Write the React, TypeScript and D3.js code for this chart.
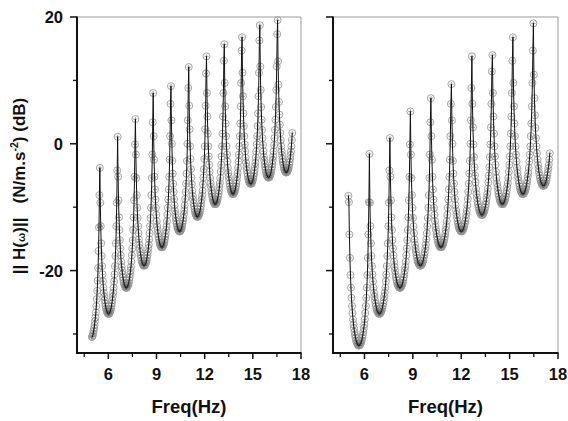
import React from 'react';
import * as d3 from 'd3';

// Sampled frequency grid (Hz) and measured magnitude (dB) for each panel
const LEFT_F0 = 4.9757;
const LEFT_STEP = 0.027675;
const LEFT_DB = [
  -30.5, -30.4, -30.2, -29.9, -29.5, -29.1, -28.6, -28.0, -27.4, -26.6, -25.6, -24.5, -23.2, -21.6, -19.6, -16.9, -13.2, -8.1,
  -3.8, -9.3, -13.0, -15.7, -17.7, -19.3, -20.6, -21.7, -22.7, -23.5, -24.1, -24.7, -25.2, -25.6, -26.0, -26.3, -26.5, -26.6, -26.8, -26.8, -26.8, -26.8, -26.6, -26.5, -26.3, -26.0, -25.6, -25.2, -24.7, -24.1, -23.5, -22.7, -21.7, -20.6, -19.3, -17.7, -15.7, -13.0, -9.3, -4.2,
  1.1, -5.2, -8.9, -11.6, -13.6, -15.2, -16.5, -17.6, -18.6, -19.4, -20.0, -20.6, -21.1, -21.5, -21.9, -22.2, -22.4, -22.5, -22.7, -22.7, -22.7, -22.7, -22.5, -22.4, -22.2, -21.9, -21.5, -21.1, -20.6, -20.0, -19.4, -18.6, -17.6, -16.5, -15.2, -13.6, -11.6, -8.9, -5.2, -0.1,
  3.9, -1.7, -5.4, -8.1, -10.1, -11.7, -13.0, -14.1, -15.1, -15.9, -16.5, -17.1, -17.6, -18.0, -18.4, -18.7, -18.9, -19.0, -19.2, -19.2, -19.2, -19.2, -19.0, -18.9, -18.7, -18.4, -18.0, -17.6, -17.1, -16.5, -15.9, -15.1, -14.1, -13.0, -11.7, -10.1, -8.1, -5.4, -1.7, 3.4,
  8.0, 1.2, -2.5, -5.2, -7.2, -8.8, -10.1, -11.2, -12.2, -13.0, -13.6, -14.2, -14.7, -15.1, -15.5, -15.8, -16.0, -16.1, -16.3, -16.3, -16.3, -16.3, -16.1, -16.0, -15.8, -15.5, -15.1, -14.7, -14.2, -13.6, -13.0, -12.2, -11.2, -10.1, -8.8, -7.2, -5.2, -2.5, 1.2, 6.3,
  9.1, 3.7, 0.0, -2.7, -4.7, -6.3, -7.6, -8.7, -9.7, -10.5, -11.1, -11.7, -12.2, -12.6, -13.0, -13.3, -13.5, -13.6, -13.8, -13.8, -13.8, -13.8, -13.6, -13.5, -13.3, -13.0, -12.6, -12.2, -11.7, -11.1, -10.5, -9.7, -8.7, -7.6, -6.3, -4.7, -2.7, 0.0, 3.7, 8.8,
  12.1, 6.0, 2.3, -0.4, -2.4, -4.0, -5.3, -6.4, -7.4, -8.2, -8.8, -9.4, -9.9, -10.3, -10.7, -11.0, -11.2, -11.3, -11.5, -11.5, -11.5, -11.5, -11.3, -11.2, -11.0, -10.7, -10.3, -9.9, -9.4, -8.8, -8.2, -7.4, -6.4, -5.3, -4.0, -2.4, -0.4, 2.3, 6.0, 11.1,
  13.8, 8.0, 4.3, 1.6, -0.4, -2.0, -3.3, -4.4, -5.4, -6.2, -6.8, -7.4, -7.9, -8.3, -8.7, -9.0, -9.2, -9.3, -9.5, -9.5, -9.5, -9.5, -9.3, -9.2, -9.0, -8.7, -8.3, -7.9, -7.4, -6.8, -6.2, -5.4, -4.4, -3.3, -2.0, -0.4, 1.6, 4.3, 8.0, 13.1,
  15.7, 9.6, 5.9, 3.2, 1.2, -0.4, -1.7, -2.8, -3.8, -4.6, -5.2, -5.8, -6.3, -6.7, -7.1, -7.4, -7.6, -7.7, -7.9, -7.9, -7.9, -7.9, -7.7, -7.6, -7.4, -7.1, -6.7, -6.3, -5.8, -5.2, -4.6, -3.8, -2.8, -1.7, -0.4, 1.2, 3.2, 5.9, 9.6, 14.7,
  16.8, 11.2, 7.5, 4.8, 2.8, 1.2, -0.1, -1.2, -2.2, -3.0, -3.6, -4.2, -4.7, -5.1, -5.5, -5.8, -6.0, -6.1, -6.3, -6.3, -6.3, -6.3, -6.1, -6.0, -5.8, -5.5, -5.1, -4.7, -4.2, -3.6, -3.0, -2.2, -1.2, -0.1, 1.2, 2.8, 4.8, 7.5, 11.2, 16.3,
  18.7, 12.2, 8.5, 5.8, 3.8, 2.2, 0.9, -0.2, -1.2, -2.0, -2.6, -3.2, -3.7, -4.1, -4.5, -4.8, -5.0, -5.1, -5.3, -5.3, -5.3, -5.3, -5.1, -5.0, -4.8, -4.5, -4.1, -3.7, -3.2, -2.6, -2.0, -1.2, -0.2, 0.9, 2.2, 3.8, 5.8, 8.5, 12.2, 17.3,
  19.5, 13.0, 9.3, 6.6, 4.6, 3.0, 1.7, 0.6, -0.4, -1.2, -1.8, -2.4, -2.9, -3.3, -3.7, -4.0, -4.2, -4.3, -4.5, -4.5, -4.5, -4.5, -4.3, -4.2, -4.0, -3.7, -3.3, -2.9, -2.4, -1.8, -1.2, -0.4, 0.6, 1.7,
];

const RIGHT_F0 = 5.0041;
const RIGHT_STEP = 0.031775;
const RIGHT_DB = [
  -8.2,
  -9.2, -14.3, -18.0, -20.7, -22.7, -24.3, -25.6, -26.7, -27.7, -28.5, -29.1, -29.7, -30.2, -30.6, -31.0, -31.3, -31.5, -31.6, -31.8, -31.8, -31.8, -31.8, -31.6, -31.5, -31.3, -31.0, -30.6, -30.2, -29.7, -29.1, -28.5, -27.7, -26.7, -25.6, -24.3, -22.7, -20.7, -18.0, -14.3, -9.2,
  -1.6, -9.3, -13.0, -15.7, -17.7, -19.3, -20.6, -21.7, -22.7, -23.5, -24.1, -24.7, -25.2, -25.6, -26.0, -26.3, -26.5, -26.6, -26.8, -26.8, -26.8, -26.8, -26.6, -26.5, -26.3, -26.0, -25.6, -25.2, -24.7, -24.1, -23.5, -22.7, -21.7, -20.6, -19.3, -17.7, -15.7, -13.0, -9.3, -4.2,
  0.9, -5.2, -8.9, -11.6, -13.6, -15.2, -16.5, -17.6, -18.6, -19.4, -20.0, -20.6, -21.1, -21.5, -21.9, -22.2, -22.4, -22.5, -22.7, -22.7, -22.7, -22.7, -22.5, -22.4, -22.2, -21.9, -21.5, -21.1, -20.6, -20.0, -19.4, -18.6, -17.6, -16.5, -15.2, -13.6, -11.6, -8.9, -5.2, -0.1,
  5.1, -1.7, -5.4, -8.1, -10.1, -11.7, -13.0, -14.1, -15.1, -15.9, -16.5, -17.1, -17.6, -18.0, -18.4, -18.7, -18.9, -19.0, -19.2, -19.2, -19.2, -19.2, -19.0, -18.9, -18.7, -18.4, -18.0, -17.6, -17.1, -16.5, -15.9, -15.1, -14.1, -13.0, -11.7, -10.1, -8.1, -5.4, -1.7, 3.4,
  7.2, 1.2, -2.5, -5.2, -7.2, -8.8, -10.1, -11.2, -12.2, -13.0, -13.6, -14.2, -14.7, -15.1, -15.5, -15.8, -16.0, -16.1, -16.3, -16.3, -16.3, -16.3, -16.1, -16.0, -15.8, -15.5, -15.1, -14.7, -14.2, -13.6, -13.0, -12.2, -11.2, -10.1, -8.8, -7.2, -5.2, -2.5, 1.2, 6.3,
  9.4, 3.7, 0.0, -2.7, -4.7, -6.3, -7.6, -8.7, -9.7, -10.5, -11.1, -11.7, -12.2, -12.6, -13.0, -13.3, -13.5, -13.6, -13.8, -13.8, -13.8, -13.8, -13.6, -13.5, -13.3, -13.0, -12.6, -12.2, -11.7, -11.1, -10.5, -9.7, -8.7, -7.6, -6.3, -4.7, -2.7, 0.0, 3.7, 8.8,
  13.8, 6.3, 2.6, -0.1, -2.1, -3.7, -5.0, -6.1, -7.1, -7.9, -8.5, -9.1, -9.6, -10.0, -10.4, -10.7, -10.9, -11.0, -11.2, -11.2, -11.2, -11.2, -11.0, -10.9, -10.7, -10.4, -10.0, -9.6, -9.1, -8.5, -7.9, -7.1, -6.1, -5.0, -3.7, -2.1, -0.1, 2.6, 6.3, 11.4,
  14.0, 8.0, 4.3, 1.6, -0.4, -2.0, -3.3, -4.4, -5.4, -6.2, -6.8, -7.4, -7.9, -8.3, -8.7, -9.0, -9.2, -9.3, -9.5, -9.5, -9.5, -9.5, -9.3, -9.2, -9.0, -8.7, -8.3, -7.9, -7.4, -6.8, -6.2, -5.4, -4.4, -3.3, -2.0, -0.4, 1.6, 4.3, 8.0, 13.1,
  16.8, 9.6, 5.9, 3.2, 1.2, -0.4, -1.7, -2.8, -3.8, -4.6, -5.2, -5.8, -6.3, -6.7, -7.1, -7.4, -7.6, -7.7, -7.9, -7.9, -7.9, -7.9, -7.7, -7.6, -7.4, -7.1, -6.7, -6.3, -5.8, -5.2, -4.6, -3.8, -2.8, -1.7, -0.4, 1.2, 3.2, 5.9, 9.6, 14.7,
  19.0, 10.9, 7.2, 4.5, 2.5, 0.9, -0.4, -1.5, -2.5, -3.3, -3.9, -4.5, -5.0, -5.4, -5.8, -6.1, -6.3, -6.4, -6.6, -6.6, -6.6, -6.6, -6.4, -6.3, -6.1, -5.8, -5.4, -5.0, -4.5, -3.9, -3.3, -2.5, -1.5,
];

const X_MAJOR = [6, 9, 12, 15, 18];
const X_MINOR = [4.5, 7.5, 10.5, 13.5, 16.5];
const Y_MAJOR = [-20, 0, 20];
const Y_MINOR = [-30, -10, 10];
const X_DOMAIN = [4.05, 18];
const Y_DOMAIN = [-33, 20];

const W = 568;
const H = 421;
const TOP = 17;
const BOTTOM = 353;
const FONT = 'Arial, "Liberation Sans", Helvetica, sans-serif';

type PanelProps = {
  left: number;
  right: number;
  f0: number;
  step: number;
  db: number[];
  showYLabels: boolean;
};

function Panel({ left, right, f0, step, db, showYLabels }: PanelProps) {
  const x = d3.scaleLinear().domain(X_DOMAIN).range([left, right]);
  const y = d3.scaleLinear().domain(Y_DOMAIN).range([BOTTOM, TOP]);
  const pts: [number, number][] = db.map((v, i) => [f0 + i * step, v]);
  const line = d3
    .line<[number, number]>()
    .x((d) => x(d[0]))
    .y((d) => y(d[1]));
  const cs = 2.2;
  const crosses = pts
    .map((d) => {
      const px = x(d[0]);
      const py = y(d[1]);
      return `M${(px - cs).toFixed(2)},${py.toFixed(2)}H${(px + cs).toFixed(2)}M${px.toFixed(2)},${(py - cs).toFixed(2)}V${(py + cs).toFixed(2)}`;
    })
    .join('');

  return (
    <g>
      <line x1={left} x2={right} y1={TOP} y2={TOP} stroke="#9a9a9a" strokeWidth={1} />
      <line x1={right} x2={right} y1={TOP} y2={BOTTOM} stroke="#9a9a9a" strokeWidth={1} />
      <g fill="none" stroke="#939393" strokeWidth={0.85}>
        {pts.map((d, i) => (
          <circle key={i} cx={x(d[0])} cy={y(d[1])} r={3.5} />
        ))}
      </g>
      <path d={crosses} stroke="#555" strokeWidth={0.5} fill="none" />
      <path d={line(pts) || ''} stroke="#111" strokeWidth={1} fill="none" />
      <line x1={left} x2={left} y1={TOP - 0.5} y2={BOTTOM + 1} stroke="#111" strokeWidth={2} />
      <line x1={left - 1} x2={right + 0.5} y1={BOTTOM} y2={BOTTOM} stroke="#111" strokeWidth={2} />
      {Y_MAJOR.map((t) => (
        <line key={'ym' + t} x1={left - 7} x2={left} y1={y(t)} y2={y(t)} stroke="#111" strokeWidth={1.5} />
      ))}
      {Y_MINOR.map((t) => (
        <line key={'yn' + t} x1={left - 4} x2={left} y1={y(t)} y2={y(t)} stroke="#111" strokeWidth={1.3} />
      ))}
      {X_MAJOR.map((t) => (
        <line key={'xm' + t} x1={x(t)} x2={x(t)} y1={BOTTOM} y2={BOTTOM + 6} stroke="#111" strokeWidth={1.5} />
      ))}
      {X_MINOR.map((t) => (
        <line key={'xn' + t} x1={x(t)} x2={x(t)} y1={BOTTOM} y2={BOTTOM + 4} stroke="#111" strokeWidth={1.3} />
      ))}
      {X_MAJOR.map((t) => (
        <text
          key={'xl' + t}
          x={x(t)}
          y={BOTTOM + 27}
          textAnchor="middle"
          fontFamily={FONT}
          fontWeight="bold"
          fontSize={16.5}
          fill="#111"
        >
          {t}
        </text>
      ))}
      {showYLabels &&
        Y_MAJOR.map((t) => (
          <text
            key={'yl' + t}
            x={left - 14}
            y={y(t) + 6}
            textAnchor="end"
            fontFamily={FONT}
            fontWeight="bold"
            fontSize={16.5}
            fill="#111"
          >
            {t}
          </text>
        ))}
      <text
        x={(left + right) / 2}
        y={413}
        textAnchor="middle"
        fontFamily={FONT}
        fontWeight="bold"
        fontSize={18.5}
        fill="#111"
      >
        Freq(Hz)
      </text>
    </g>
  );
}

export default function App() {
  return (
    <svg
      width={W}
      height={H}
      viewBox={`0 0 ${W} ${H}`}
      style={{ position: 'absolute', left: 0, top: 0, background: '#fff' }}
    >
      <rect width={W} height={H} fill="#fff" />
      <Panel left={77} right={301} f0={LEFT_F0} step={LEFT_STEP} db={LEFT_DB} showYLabels={true} />
      <Panel left={333} right={558} f0={RIGHT_F0} step={RIGHT_STEP} db={RIGHT_DB} showYLabels={false} />
      <text
        transform="translate(25,186) rotate(-90)"
        textAnchor="middle"
        fontFamily={FONT}
        fontWeight="bold"
        fontSize={17}
        fill="#111"
      >
        {'|| H('}
        <tspan fontSize={11}>ω</tspan>
        {')||\u00A0\u00A0\u00A0(N/m.s'}
        <tspan fontSize={10.5} dy={-7}>-2</tspan>
        <tspan dy={7}>{') (dB)'}</tspan>
      </text>
    </svg>
  );
}
